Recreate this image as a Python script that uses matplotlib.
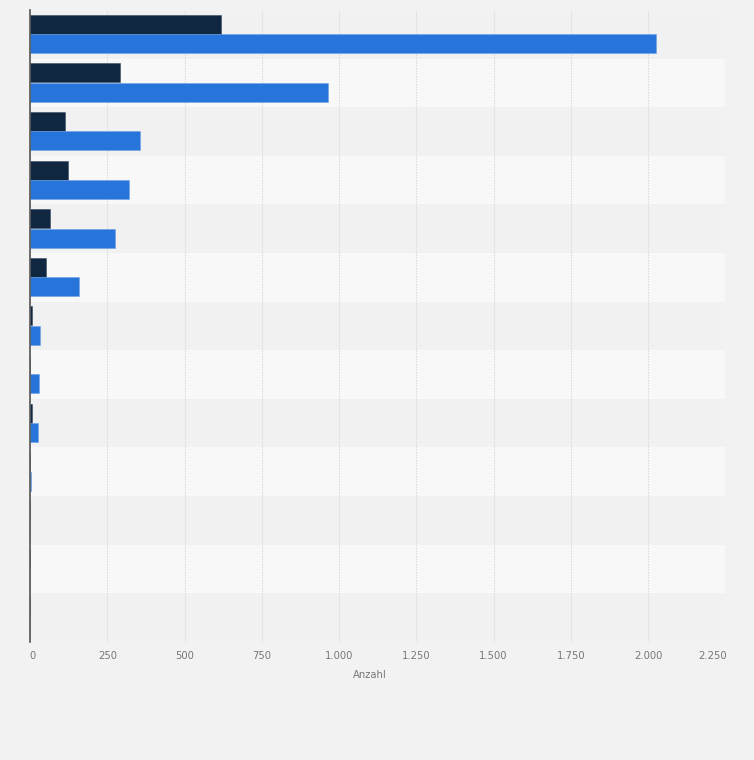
import numpy as np
import matplotlib.pyplot as plt
from matplotlib.transforms import ScaledTranslation

# 13 Kategorien (keine Beschriftung sichtbar), zwei Serien
rows = list(range(13))
series_dark = [619, 292, 114, 124, 65, 52, 7, 0, 7, 0, 0, 0, 0]
series_blue = [2026, 963, 357, 321, 276, 160, 32, 29, 26, 2, 0, 0, 0]
xticks = [0, 250, 500, 750, 1000, 1250, 1500, 1750, 2000, 2250]
xticklabels = ['0', '250', '500', '750', '1.000', '1.250', '1.500', '1.750', '2.000', '2.250']

fig = plt.figure(figsize=(7.54, 7.6), dpi=100, facecolor='#f2f2f2')
ax = fig.add_axes([30 / 754, 1 - 641.7 / 760, 695.3 / 754, 631.7 / 760])
ax.set_facecolor('#f2f2f2')

y = np.array(rows)
# alternating row bands
for i in rows:
    ax.axhspan(i - 0.5, i + 0.5, color='#f1f1f1' if i % 2 == 0 else '#f8f8f8', zorder=0, lw=0)

ax.barh(y - 0.205, series_dark, height=0.39, color='#0f2741', edgecolor='#3a4d63', linewidth=0.4, zorder=3)
ax.barh(y + 0.195, series_blue, height=0.39, color='#2775da', edgecolor='#6ea1e6', linewidth=0.4, zorder=3)

ax.set_ylim(12.5, -0.5)
ax.set_xlim(0, 2250)
ax.set_yticks([])
ax.set_xticks(xticks)
ax.set_xticklabels(xticklabels, fontsize=7.2, color='#777777')
ax.tick_params(axis='x', length=0, pad=7)
ax.grid(axis='x', color='#d8d8d8', linestyle=(0, (1.2, 1.2)), linewidth=0.8, zorder=1)
ax.set_axisbelow(True)

# first and last labels sit a bit inward, as in the original
labels = ax.get_xticklabels()
labels[0].set_transform(labels[0].get_transform() + ScaledTranslation(3 / 100, 0, fig.dpi_scale_trans))
labels[-1].set_transform(labels[-1].get_transform() + ScaledTranslation(-13 / 100, 0, fig.dpi_scale_trans))

for s in ['top', 'right', 'bottom']:
    ax.spines[s].set_visible(False)
ax.spines['left'].set_color('#555555')
ax.spines['left'].set_linewidth(1.2)
ax.spines['left'].set_zorder(4)

ax.set_xlabel('Anzahl', fontsize=7.2, color='#777777')
ax.xaxis.set_label_coords((370 - 30) / 695.3, -(670 - 641.7) / 631.7)

fig.savefig('out.png', dpi=100, facecolor=fig.get_facecolor())
